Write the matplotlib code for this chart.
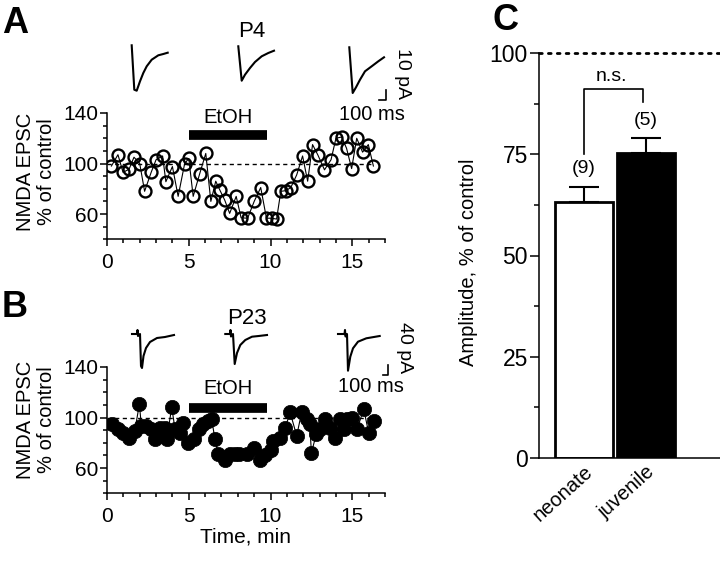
import numpy as np
import matplotlib.pyplot as plt
from matplotlib.ticker import MultipleLocator, FixedLocator

plt.rcParams['font.family'] = ['Liberation Sans', 'DejaVu Sans']

# panel A: P4 slice, NMDA EPSC amplitude (% of control) vs time (min)
p4_time = [0.27, 0.67, 0.98, 1.35, 1.65, 2.0, 2.3, 2.7, 3.0, 3.4, 3.6, 4.0, 4.35, 4.75,
           5.0, 5.27, 5.67, 6.04, 6.35, 6.65, 6.9, 7.2, 7.5, 7.9, 8.2, 8.6, 9.0, 9.4,
           9.75, 10.06, 10.37, 10.63, 10.94, 11.24, 11.6, 11.96, 12.27, 12.57, 12.9,
           13.3, 13.7, 14.0, 14.35, 14.65, 14.96, 15.27, 15.63, 15.98, 16.29]
p4_amp = [98, 107, 93, 95.5, 105, 100, 78, 93, 103, 106, 85.6, 97.6, 74, 100,
          104, 74, 92, 108, 70, 86, 79, 71, 60.5, 74, 57, 56.7, 70, 81,
          56.7, 56.7, 56, 78, 78.5, 81, 91, 106, 86, 115, 106.6,
          95, 103, 120, 121, 112, 96, 120, 109, 115, 98]

# panel B: P23 slice
p23_time = [0.29, 0.69, 1.0, 1.37, 1.7, 1.98, 2.1, 2.4, 2.7, 2.94, 3.24, 3.55, 3.65, 3.96,
            4.16, 4.47, 4.67, 4.98, 5.29, 5.6, 5.9, 6.2, 6.4, 6.6, 6.8, 7.2, 7.5, 7.84,
            8.1, 8.55, 8.96, 9.37, 9.67, 10.0, 10.18, 10.6, 10.9, 11.2, 11.6, 11.9, 12.2,
            12.4, 12.5, 12.8, 13.0, 13.35, 13.65, 13.96, 14.27, 14.47, 14.67, 14.98,
            15.29, 15.7, 16.0, 16.3]
p23_amp = [94.7, 90.8, 88, 84, 89.5, 110.5, 93.4, 93.4, 90.8, 83, 92, 92, 83, 108,
           90.8, 88, 96, 80, 83, 90.8, 94.7, 97, 98.7, 83, 71, 66, 71, 71,
           71, 71, 76, 66, 70, 74, 81.6, 84, 92, 104, 85.5, 104, 98.7,
           94.7, 72, 87, 90.8, 98.7, 92, 84, 98.7, 90.8, 98.7, 100,
           90.8, 106.6, 88, 97.4]

etoh_start, etoh_end = 5, 9.8

# panel C: mean amplitude during EtOH
groups = ['neonate', 'juvenile']
mean_amp = [63.2, 75.3]
sem_amp = [3.8, 3.6]
n_cells = ['(9)', '(5)']

# example EPSC traces (figure pixels, x right / y down)
trA1_x = [131.7, 134.3, 136.7, 140, 143.3, 146.7, 151.7, 158.3, 163.3, 167.7]
trA1_y = [45.3, 89.7, 90.7, 81.3, 73, 66.3, 59.7, 55.3, 54, 52.7]
trA2_x = [238.3, 241.7, 245, 250, 255, 261.7, 268.3, 274]
trA2_y = [46.3, 80.7, 74.7, 68, 62, 56.3, 53, 50.7]
trA3_x = [349.3, 352.7, 356, 360, 365, 371.7, 378.3, 384]
trA3_y = [47.3, 93, 87.3, 79.7, 71.3, 66.3, 61.3, 57.3]
trB1_x = [132, 137, 137.5, 138, 140, 141, 142, 143.5, 146, 150, 157, 165, 174]
trB1_y = [334, 334, 330, 336, 334, 366, 368, 356, 348, 342, 338, 337, 335]
trB2_x = [225.3, 230, 230.5, 231, 233, 234.7, 237, 240.3, 245.3, 252, 258.7, 267]
trB2_y = [334, 334, 330, 336.5, 334, 364, 353, 345, 340, 336.7, 336, 335]
trB3_x = [338, 344.5, 345, 345.5, 347, 348, 350.3, 353, 358, 366.3, 379.7]
trB3_y = [334, 334, 330, 336.5, 334, 370.7, 356.7, 348.3, 341.7, 338.3, 336]

fig = plt.figure(figsize=(7.2, 5.67), dpi=100)


def time_axes(rect, t, amp, filled, bar_y, label_y):
    ax = fig.add_axes(rect)
    ax.plot(t, amp, color='black', lw=0.8, zorder=2)
    if filled:
        ax.plot(t, amp, 'o', ms=10.3, mfc='black', mec='black', mew=0.5, zorder=3)
    else:
        ax.plot(t, amp, 'o', ms=8.6, mfc='none', mec='black', mew=1.7, zorder=3)
    ax.plot([0, 16.3], [100, 100], color='black', lw=1, ls=(0, (3, 2.5)), zorder=1)
    ax.plot([etoh_start, etoh_end], [bar_y, bar_y], color='black', lw=7,
            solid_capstyle='butt')
    ax.text(7.4, label_y, 'EtOH', ha='center', va='center', fontsize=14.5)
    ax.set_xlim(0, 17)
    ax.set_ylim(40, 140)
    ax.spines['top'].set_visible(False)
    ax.spines['right'].set_visible(False)
    for s in ['left', 'bottom']:
        ax.spines[s].set_linewidth(1.1)
    ax.xaxis.set_major_locator(FixedLocator([0, 5, 10, 15]))
    ax.xaxis.set_minor_locator(MultipleLocator(1))
    ax.yaxis.set_major_locator(FixedLocator([60, 100, 140]))
    ax.yaxis.set_minor_locator(MultipleLocator(10))
    ax.tick_params(which='both', direction='out', width=1.1, labelsize=15)
    ax.tick_params(which='major', length=5)
    ax.tick_params(which='minor', length=3)
    ax.tick_params(axis='x', pad=5)
    ax.tick_params(axis='y', pad=1)
    return ax


axA = time_axes([107 / 720, 1 - 239.3 / 567, 278 / 720, 126.3 / 567],
                p4_time, p4_amp, False, 122.3, 136.6)
axB = time_axes([107 / 720, 1 - 493.3 / 567, 278 / 720, 126.3 / 567],
                p23_time, p23_amp, True, 107.9, 123.1)

# panel C
axC = fig.add_axes([539 / 720, 1 - 458 / 567, 181 / 720, 405 / 567])
xpos = np.arange(len(groups))
axC.bar(xpos, mean_amp, width=0.95, color=['white', 'black'], edgecolor='black',
        linewidth=2, zorder=2)
axC.errorbar(xpos, mean_amp, yerr=[[0, 0], sem_amp], fmt='none', ecolor='black',
             elinewidth=1.5, capsize=10.5, capthick=1.5, zorder=1)
axC.plot([-0.73, 2.3], [100, 100], color='black', lw=2, ls=(0, (1, 2.2)),
         dash_capstyle='round', clip_on=False)
for i in range(len(groups)):
    axC.text(xpos[i], mean_amp[i] + sem_amp[i] + 4.4, n_cells[i], ha='center',
             va='center', fontsize=14)
axC.plot([0, 0, 0.95, 0.95], [75, 91, 91, 88], color='black', lw=1.2)
axC.text(0.45, 94.2, 'n.s.', ha='center', va='center', fontsize=14)
axC.set_xlim(-0.73, 2.2)
axC.set_ylim(0, 100)
axC.spines['top'].set_visible(False)
axC.spines['right'].set_visible(False)
for s in ['left', 'bottom']:
    axC.spines[s].set_linewidth(1.1)
axC.yaxis.set_major_locator(MultipleLocator(25))
axC.yaxis.set_minor_locator(MultipleLocator(12.5))
axC.tick_params(axis='y', which='both', direction='out', width=1.1, labelsize=16.5, pad=1.5)
axC.tick_params(axis='y', which='major', length=6.5)
axC.tick_params(axis='y', which='minor', length=3.5)
axC.set_xticks(xpos)
axC.set_xticklabels(groups, rotation=42, ha='right', rotation_mode='anchor', fontsize=14.5)
axC.tick_params(axis='x', length=0, pad=3)

# overlay in figure pixels for traces, labels and scale bars
ov = fig.add_axes([0, 0, 1, 1])
ov.set_xlim(0, 720)
ov.set_ylim(567, 0)
ov.axis('off')
for tx, ty in [(trA1_x, trA1_y), (trA2_x, trA2_y), (trA3_x, trA3_y),
               (trB1_x, trB1_y), (trB2_x, trB2_y), (trB3_x, trB3_y)]:
    ov.plot(tx, ty, color='black', lw=1.5, solid_joinstyle='round')
ov.plot([379, 386, 386], [99.7, 99.7, 89.7], color='black', lw=1.2)
ov.plot([383, 388, 388], [375, 375, 365], color='black', lw=1.2)
ov.text(402, 73.5, '10 pA', rotation=-90, ha='center', va='center', fontsize=14)
ov.text(405, 347.5, '40 pA', rotation=-90, ha='center', va='center', fontsize=14)
ov.text(372, 115, '100 ms', ha='center', va='center', fontsize=14.5)
ov.text(371, 386, '100 ms', ha='center', va='center', fontsize=14.5)
ov.text(252, 31.5, 'P4', ha='center', va='center', fontsize=16)
ov.text(247, 318, 'P23', ha='center', va='center', fontsize=16)
ov.text(2, 33, 'A', ha='left', va='baseline', fontsize=26, fontweight='bold')
ov.text(2, 317, 'B', ha='left', va='baseline', fontsize=26, fontweight='bold')
ov.text(493, 30.5, 'C', ha='left', va='baseline', fontsize=26, fontweight='bold')
ov.text(36, 172, 'NMDA EPSC\n% of control', rotation=90, ha='center', va='center',
        fontsize=14.5, linespacing=1.15)
ov.text(36, 420, 'NMDA EPSC\n% of control', rotation=90, ha='center', va='center',
        fontsize=14.5, linespacing=1.15)
ov.text(469, 262, 'Amplitude, % of control', rotation=90, ha='center', va='center',
        fontsize=14.5)
ov.text(246, 537, 'Time, min', ha='center', va='center', fontsize=15)

fig.savefig('out.png', dpi=100)
